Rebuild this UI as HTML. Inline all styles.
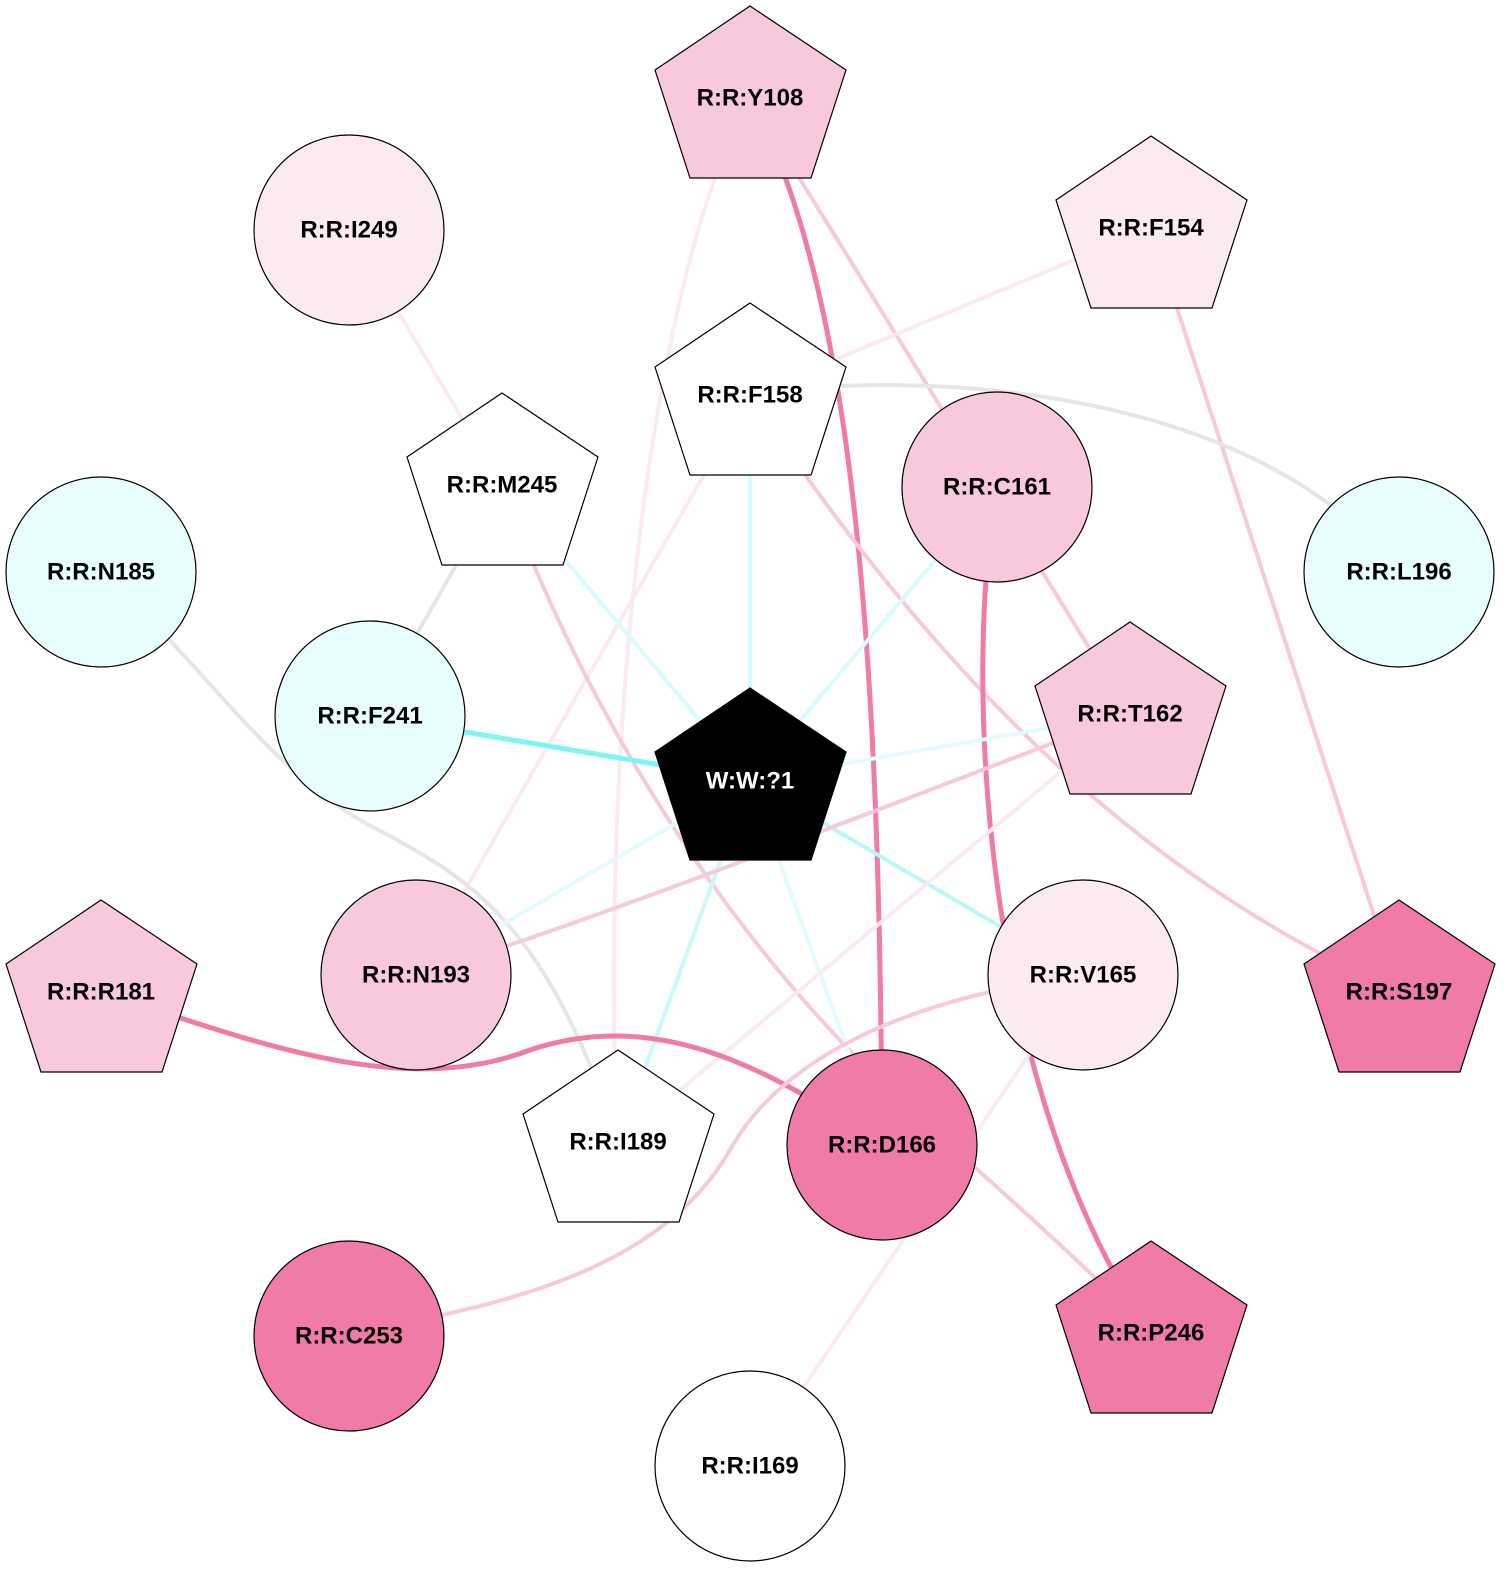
<!DOCTYPE html>
<html><head><meta charset="utf-8"><style>
html,body{margin:0;padding:0;background:#fff;width:1507px;height:1574px;overflow:hidden}
svg{display:block}
text{font-family:"Liberation Sans",Arial,sans-serif;font-weight:bold;font-size:24px;text-anchor:middle;dominant-baseline:central}
</style></head><body>
<svg width="1507" height="1574" viewBox="0 0 1507 1574" xmlns="http://www.w3.org/2000/svg">
<defs>
<path id="pent" d="M0,0 L96,64 L61,172 L-60,172 L-95,64 Z"/>
</defs>
<g fill="none" stroke-width="4">
<path d="M349,230 L502,485" stroke="#fbeaf1"/>
<path d="M750,98 C640,300 600,800 618,1142" stroke="#fbeaf1"/>
<path d="M750,98 C860,300 880,700 882,1145" stroke="#f07aa8" stroke-width="5"/>
<path d="M750,98 L1130,714" stroke="#f8c8dc"/>
<path d="M1151,228 L750,395" stroke="#fbeaf1"/>
<path d="M1151,228 L1399,992" stroke="#f8c8dc"/>
<path d="M750,395 C900,370 1250,380 1399,572" stroke="#e6e6e6"/>
<path d="M750,395 L750,780" stroke="#d6fdfd"/>
<path d="M750,395 L416,975" stroke="#fbeaf1"/>
<path d="M750,395 C900,620 1100,860 1399,992" stroke="#f8c8dc"/>
<path d="M502,485 L370,716" stroke="#e6e6e6"/>
<path d="M502,485 L750,780" stroke="#d6fdfd"/>
<path d="M502,485 C600,750 750,960 900,1100 C1000,1190 1080,1260 1151,1333" stroke="#f8c8dc"/>
<path d="M997,487 L750,780" stroke="#d6fdfd"/>
<path d="M997,487 C960,700 990,1100 1151,1333" stroke="#f07aa8" stroke-width="5"/>
<path d="M101,572 C200,660 260,760 360,820 C450,870 540,900 618,1142" stroke="#e6e6e6"/>
<path d="M370,716 L750,780" stroke="#7ff6f6" stroke-width="5"/>
<path d="M750,780 L1130,714" stroke="#e0fcfc"/>
<path d="M750,780 L416,975" stroke="#e0fcfc"/>
<path d="M750,780 L1083,975" stroke="#b8f8f8"/>
<path d="M750,780 L618,1142" stroke="#c8fafa"/>
<path d="M750,780 L882,1145" stroke="#e0fcfc"/>
<path d="M1130,714 C900,800 600,920 416,975" stroke="#f8c8dc"/>
<path d="M1130,714 L618,1142" stroke="#fbeaf1"/>
<path d="M101,992 C250,1040 400,1100 530,1050 C650,1010 760,1060 882,1145" stroke="#f07aa8" stroke-width="5"/>
<path d="M1083,975 C900,1000 780,1060 730,1150 C650,1290 450,1310 349,1336" stroke="#f8c8dc"/>
<path d="M1083,975 L750,1466" stroke="#fbeaf1"/>
</g>
<g stroke="#000" stroke-width="1.2">
<use href="#pent" x="750" y="6" fill="#f8c8dc"/>
<circle cx="349" cy="230" r="95" fill="#fbeaf1"/>
<use href="#pent" x="1151" y="136" fill="#fbeaf1"/>
<use href="#pent" x="750" y="303" fill="#fff"/>
<use href="#pent" x="502" y="393" fill="#fff"/>
<circle cx="997" cy="487" r="95" fill="#f8c8dc"/>
<circle cx="101" cy="572" r="95" fill="#e8fefe"/>
<circle cx="1399" cy="572" r="95" fill="#e8fefe"/>
<circle cx="370" cy="716" r="95" fill="#e8fefe"/>
<use href="#pent" x="750" y="688" fill="#000"/>
<use href="#pent" x="1130" y="622" fill="#f8c8dc"/>
<circle cx="416" cy="975" r="95" fill="#f8c8dc"/>
<circle cx="1083" cy="975" r="95" fill="#fbeaf1"/>
<use href="#pent" x="101" y="900" fill="#f8c8dc"/>
<use href="#pent" x="1399" y="900" fill="#f07aa8"/>
<use href="#pent" x="618" y="1050" fill="#fff"/>
<circle cx="882" cy="1145" r="95" fill="#f07aa8"/>
<circle cx="349" cy="1336" r="95" fill="#f07aa8"/>
<use href="#pent" x="1151" y="1241" fill="#f07aa8"/>
<circle cx="750" cy="1466" r="95" fill="#fff"/>
</g>
<g fill="#000">
<text x="750" y="98">R:R:Y108</text>
<text x="349" y="230">R:R:I249</text>
<text x="1151" y="228">R:R:F154</text>
<text x="750" y="395">R:R:F158</text>
<text x="502" y="485">R:R:M245</text>
<text x="997" y="487">R:R:C161</text>
<text x="101" y="572">R:R:N185</text>
<text x="1399" y="572">R:R:L196</text>
<text x="370" y="716">R:R:F241</text>
<text x="750" y="781" fill="#fff">W:W:?1</text>
<text x="1130" y="714">R:R:T162</text>
<text x="416" y="975">R:R:N193</text>
<text x="1083" y="975">R:R:V165</text>
<text x="101" y="992">R:R:R181</text>
<text x="1399" y="992">R:R:S197</text>
<text x="618" y="1142">R:R:I189</text>
<text x="882" y="1145">R:R:D166</text>
<text x="349" y="1336">R:R:C253</text>
<text x="1151" y="1333">R:R:P246</text>
<text x="750" y="1466">R:R:I169</text>
</g>
</svg>
</body></html>
